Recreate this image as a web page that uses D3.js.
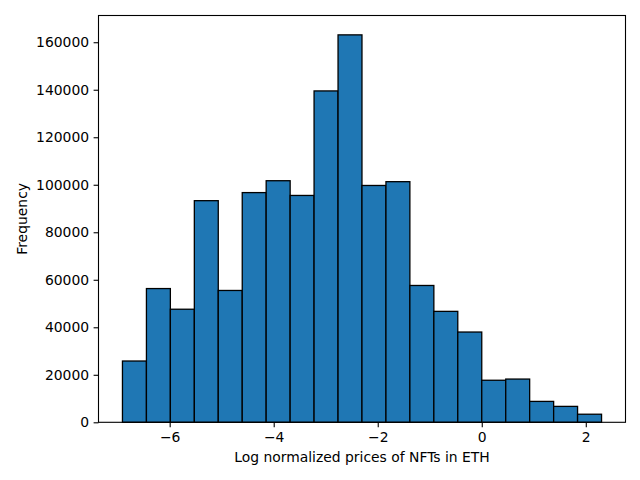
<!DOCTYPE html>
<html>
<head>
<meta charset="utf-8">
<script src="https://cdn.jsdelivr.net/npm/d3@7"></script>
<style>
  html, body { margin: 0; padding: 0; background: #fff; }
  svg { display: block; }
  text { font-family: "DejaVu Sans", sans-serif; fill: #000; }
</style>
</head>
<body>
<svg id="chart" width="640" height="480"></svg>
<script>
// Histogram bin edges (log of ETH price, 20 bins)
const binEdges = [-6.908, -6.447, -5.987, -5.526, -5.066, -4.605, -4.145, -3.684, -3.224, -2.763,
                  -2.303, -1.842, -1.382, -0.921, -0.461, 0.000, 0.461, 0.921, 1.382, 1.842, 2.303];
// Frequency in each bin
const frequencies = [25800, 56300, 47600, 93300, 55500, 96700, 101700, 95500, 139500, 163100,
                     99700, 101300, 57600, 46700, 38000, 17700, 18200, 8800, 6700, 3400];
const xTicks = [-6, -4, -2, 0, 2];
const yTicks = [0, 20000, 40000, 60000, 80000, 100000, 120000, 140000, 160000];
const xLabel = "Log normalized prices of NFTs in ETH";
const yLabel = "Frequency";

const svg = d3.select("#chart");
const plot = { left: 98.5, right: 625.5, top: 15.5, bottom: 422.3 };

const xMin = d3.min(binEdges), xMax = d3.max(binEdges);
const xPad = (xMax - xMin) * 0.05;
const x = d3.scaleLinear().domain([xMin - xPad, xMax + xPad]).range([plot.left, plot.right]);
const yMax = d3.max(frequencies) * 1.05;
const y = d3.scaleLinear().domain([0, yMax]).range([plot.bottom, plot.top]);

const bins = frequencies.map((f, i) => ({ x0: binEdges[i], x1: binEdges[i + 1], f }));

svg.append("g").selectAll("rect").data(bins).join("rect")
  .attr("x", d => x(d.x0))
  .attr("width", d => x(d.x1) - x(d.x0))
  .attr("y", d => y(d.f))
  .attr("height", d => y(0) - y(d.f))
  .attr("fill", "#1f77b4")
  .attr("stroke", "#000")
  .attr("stroke-width", 1.3);

const fmtMinus = v => (v < 0 ? "\u2212" + Math.abs(v) : String(v));

const xAxis = d3.axisBottom(x).tickValues(xTicks).tickFormat(fmtMinus)
  .tickSizeInner(4.9).tickSizeOuter(0).tickPadding(4.5);
const gx = svg.append("g").attr("transform", `translate(0,${plot.bottom})`).call(xAxis);
gx.select(".domain").remove();
gx.selectAll(".tick line").attr("stroke", "#000").attr("stroke-width", 1.1);
gx.selectAll(".tick text").attr("font-size", 13.9).attr("font-family", "DejaVu Sans");

const yAxis = d3.axisLeft(y).tickValues(yTicks).tickFormat(d => String(d))
  .tickSizeInner(4.9).tickSizeOuter(0).tickPadding(4.5);
const gy = svg.append("g").attr("transform", `translate(${plot.left},0)`).call(yAxis);
gy.select(".domain").remove();
gy.selectAll(".tick line").attr("stroke", "#000").attr("stroke-width", 1.1);
gy.selectAll(".tick text").attr("font-size", 13.9).attr("font-family", "DejaVu Sans");

// frame
svg.append("rect")
  .attr("x", plot.left).attr("y", plot.top)
  .attr("width", plot.right - plot.left).attr("height", plot.bottom - plot.top)
  .attr("fill", "none").attr("stroke", "#000").attr("stroke-width", 1.1);

svg.append("text")
  .attr("x", (plot.left + plot.right) / 2).attr("y", 462)
  .attr("text-anchor", "middle").attr("font-size", 13.9)
  .text(xLabel);

svg.append("text")
  .attr("transform", `translate(26.8,${(plot.top + plot.bottom) / 2}) rotate(-90)`)
  .attr("text-anchor", "middle").attr("font-size", 13.9)
  .text(yLabel);
</script>
</body>
</html>
